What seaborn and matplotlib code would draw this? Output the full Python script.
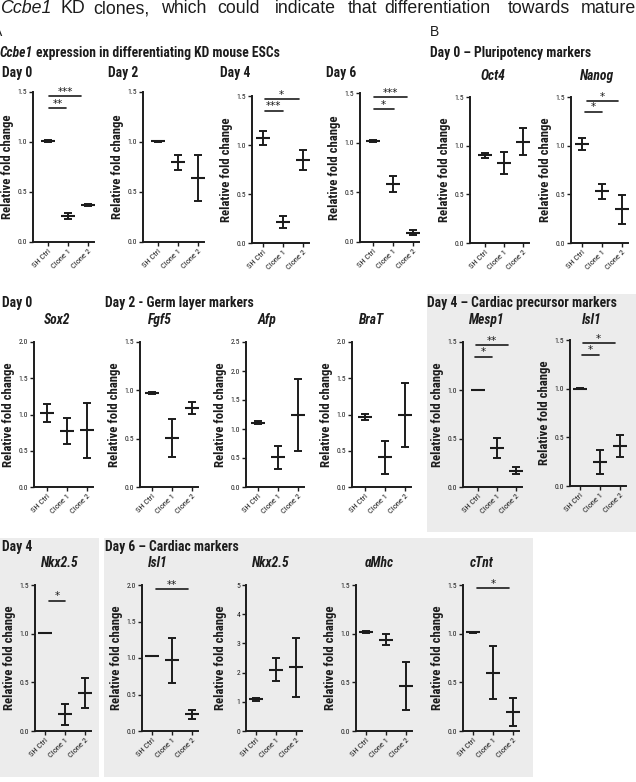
import matplotlib
matplotlib.use("Agg")
import matplotlib.pyplot as plt
import seaborn as sns
import numpy as np
import pandas as pd
from matplotlib.patches import Rectangle
from matplotlib.ticker import FormatStrFormatter, MultipleLocator
from matplotlib import font_manager as fm

# ---------------- data (mean, SEM) ----------------
groups = ["SH Ctrl", "Clone 1", "Clone 2"]

ccbe1_d0_mean = [1.01, 0.26, 0.37]
ccbe1_d0_sem = [0.01, 0.03, 0.012]
ccbe1_d2_mean = [1.01, 0.80, 0.64]
ccbe1_d2_sem = [0.005, 0.075, 0.23]
ccbe1_d4_mean = [1.075, 0.215, 0.85]
ccbe1_d4_sem = [0.07, 0.065, 0.10]
ccbe1_d6_mean = [1.02, 0.58, 0.095]
ccbe1_d6_sem = [0.01, 0.08, 0.022]
oct4_mean = [0.90, 0.82, 1.04]
oct4_sem = [0.025, 0.11, 0.14]
nanog_mean = [1.02, 0.53, 0.345]
nanog_sem = [0.063, 0.078, 0.145]
sox2_mean = [1.025, 0.775, 0.78]
sox2_sem = [0.125, 0.18, 0.385]
fgf5_mean = [0.97, 0.505, 0.82]
fgf5_sem = [0.01, 0.195, 0.063]
afp_mean = [1.11, 0.51, 1.24]
afp_sem = [0.03, 0.195, 0.625]
brat_mean = [0.97, 0.41, 0.99]
brat_sem = [0.04, 0.23, 0.44]
mesp1_mean = [1.005, 0.405, 0.17]
mesp1_sem = [0.0, 0.105, 0.033]
isl1_d4_mean = [1.0, 0.245, 0.41]
isl1_d4_sem = [0.005, 0.12, 0.113]
nkx25_d4_mean = [1.005, 0.17, 0.39]
nkx25_d4_sem = [0.0, 0.105, 0.15]
isl1_d6_mean = [1.025, 0.97, 0.23]
isl1_d6_sem = [0.0, 0.31, 0.06]
nkx25_d6_mean = [1.085, 2.10, 2.18]
nkx25_d6_sem = [0.045, 0.40, 1.02]
amhc_mean = [1.02, 0.94, 0.463]
amhc_sem = [0.01, 0.06, 0.25]
ctnt_mean = [1.015, 0.60, 0.196]
ctnt_sem = [0.006, 0.275, 0.145]

# ---------------- fonts ----------------
sns.set_style("ticks")


def wnum(w):
    return w if isinstance(w, (int, float)) else fm.weight_dict.get(w, 400)


info = {}
for f in fm.fontManager.ttflist:
    info.setdefault(f.name, set()).add(wnum(f.weight) >= 600)

pref = ["Roboto Condensed", "Liberation Sans Narrow", "Arial Narrow", "PT Sans Narrow",
        "Archivo Narrow", "Barlow Semi Condensed", "Encode Sans Condensed"]
NARROW, NS = "Liberation Sans", 0.82
for n in pref:
    if n in info and True in info[n]:
        NARROW, NS = n, 1.0
        break
REG = "Liberation Sans"
plt.rcParams["font.family"] = [NARROW, "DejaVu Sans"]
INK = "#1c1c1c"

W, H = 636, 782
fig = plt.figure(figsize=(W / 100, H / 100), dpi=100)


def fx(x):
    return x / W


def fy(y):
    return 1 - y / H


def ftext(x, y, s, size, weight="bold", style="normal", ha="left", family=None):
    return fig.text(fx(x), fy(y), s, fontsize=size, fontweight=weight, fontstyle=style,
                    ha=ha, va="baseline", family=[family or NARROW, "DejaVu Sans"], color=INK)


# gray background boxes
for (x0, y0, x1, y1) in [(427, 294, 636, 532), (0, 538, 99, 777), (104, 538, 533, 777)]:
    fig.patches.append(Rectangle((fx(x0), fy(y1)), fx(x1) - fx(x0), fy(y0) - fy(y1),
                                 transform=fig.transFigure, facecolor="#ececec",
                                 edgecolor="none", zorder=-10))


def panel(mean, sem, ymax, ystep, left, top, bottom, cat0, sigs, ppu=20, xr=2.3, fmt="%.1f"):
    xl = -(cat0 - left) / ppu
    width = (xr - xl) * ppu
    ax = fig.add_axes([fx(left), fy(bottom), width / W, (bottom - top) / H])
    ax.set_facecolor("none")
    df = pd.DataFrame({"group": groups, "value": mean})
    sns.pointplot(data=df, x="group", y="value", ax=ax, color=INK, linestyle="none",
                  marker="_", markersize=10, markeredgewidth=1.5, errorbar=None)
    ax.errorbar(range(3), mean, yerr=sem, fmt="none", ecolor=INK, elinewidth=1.4,
                capsize=3, capthick=1.4)
    ax.set_xlim(xl, xr)
    ax.set_ylim(0, ymax)
    ax.yaxis.set_major_locator(MultipleLocator(ystep))
    ax.yaxis.set_major_formatter(FormatStrFormatter(fmt))
    ax.set_xlabel("")
    ax.set_ylabel("Relative fold change", fontsize=9.2 * NS, fontweight="bold", color=INK)
    ax.yaxis.set_label_coords(-19 / width, 0.5)
    for s in ["top", "right"]:
        ax.spines[s].set_visible(False)
    for s in ["left", "bottom"]:
        ax.spines[s].set_linewidth(1.4)
        ax.spines[s].set_color(INK)
    ax.tick_params(axis="y", direction="out", length=3, width=1, color=INK,
                   labelsize=5.5 * NS, pad=1.2, labelcolor=INK)
    ax.tick_params(axis="x", direction="out", length=3, width=1, color=INK,
                   labelsize=6 * NS, pad=1.2, labelcolor=INK)
    for lab in ax.get_xticklabels():
        lab.set_rotation(45)
        lab.set_ha("right")
        lab.set_rotation_mode("anchor")
    for x0, x1, y, lab in sigs:
        ax.plot([x0, x1], [y, y], color=INK, lw=1.2, clip_on=False)
        ax.annotate(lab, xy=((x0 + x1) / 2, y), xytext=(0, -0.5), textcoords="offset points",
                    ha="center", va="bottom", fontsize=7.5, color=INK, annotation_clip=False,
                    family=["DejaVu Sans"])
    return ax


# Row 1
panel(ccbe1_d0_mean, ccbe1_d0_sem, 1.5, 0.5, 33, 92, 242, 48,
      [(0.05, 0.92, 1.34, "**"), (0.05, 1.67, 1.46, "***")])
panel(ccbe1_d2_mean, ccbe1_d2_sem, 1.5, 0.5, 143, 92, 242, 158, [])
panel(ccbe1_d4_mean, ccbe1_d4_sem, 1.5, 0.5, 252, 96, 243, 263,
      [(0.08, 1.0, 1.35, "***"), (0.08, 1.8, 1.47, "*")])
panel(ccbe1_d6_mean, ccbe1_d6_sem, 1.5, 0.5, 360, 93, 242, 373,
      [(0.03, 1.05, 1.34, "*"), (0.03, 1.72, 1.46, "***")])
panel(oct4_mean, oct4_sem, 1.5, 0.5, 470, 97, 243, 485, [], ppu=19)
panel(nanog_mean, nanog_sem, 1.5, 0.5, 571, 97, 243, 582,
      [(0.13, 1.0, 1.35, "*"), (0.25, 1.78, 1.46, "*")])
# Row 2
panel(sox2_mean, sox2_sem, 2.0, 0.5, 34, 342, 487, 47, [])
panel(fgf5_mean, fgf5_sem, 1.5, 0.5, 140, 342, 487, 152, [])
panel(afp_mean, afp_sem, 2.5, 0.5, 246, 342, 487, 258, [])
panel(brat_mean, brat_sem, 2.0, 0.5, 352, 342, 487, 365, [])
panel(mesp1_mean, mesp1_sem, 1.5, 0.5, 463, 342, 487, 478,
      [(-0.16, 0.74, 1.35, "*"), (-0.09, 1.6, 1.465, "**")], ppu=19)
panel(isl1_d4_mean, isl1_d4_sem, 1.5, 0.5, 570, 340, 486, 580,
      [(0.08, 0.95, 1.35, "*"), (0.13, 1.75, 1.47, "*")])
# Row 3
panel(nkx25_d4_mean, nkx25_d4_sem, 1.5, 0.5, 35, 585, 731, 45, [(0.22, 1.0, 1.34, "*")])
panel(isl1_d6_mean, isl1_d6_sem, 2.0, 0.5, 142, 585, 731, 152, [(0.22, 1.8, 1.945, "**")])
panel(nkx25_d6_mean, nkx25_d6_sem, 5, 1, 246, 585, 731, 256, [], fmt="%d")
panel(amhc_mean, amhc_sem, 1.5, 0.5, 356, 585, 731, 366, [])
panel(ctnt_mean, ctnt_sem, 1.5, 0.5, 463, 585, 731, 473, [(0.2, 1.8, 1.465, "*")])

# ---------------- texts ----------------
words = [("Ccbe1", 0, "italic"), ("KD", 60, "normal"), ("clones,", 93, "normal"),
         ("which", 161, "normal"), ("could", 217, "normal"), ("indicate", 275, "normal"),
         ("that", 348, "normal"), ("differentiation", 384, "normal"),
         ("towards", 508, "normal"), ("mature", 581, "normal")]
for w, x, st in words:
    ftext(x, 13, w, 12.8, weight="normal", style=st, family=REG)
ftext(2.5, 36, "A", 10, weight="normal", ha="right", family=REG)
ftext(430, 36, "B", 10, weight="normal", family=REG)

T = 9.8 * NS
t0 = ftext(0, 57, "Ccbe1", T, style="italic")
r = fig.canvas.get_renderer()
x_after = t0.get_window_extent(r).x1
ftext(x_after + 3, 57, "expression in differentiating KD mouse ESCs", T)
ftext(430, 57, "Day 0 – Pluripotency markers", T)
for x, s in [(2, "Day 0"), (108, "Day 2"), (220, "Day 4"), (326, "Day 6")]:
    ftext(x, 77, s, T)
ftext(493, 80, "Oct4", T, style="italic", ha="center")
ftext(597, 80, "Nanog", T, style="italic", ha="center")

ftext(2, 307, "Day 0", T)
ftext(105, 307, "Day 2 - Germ layer markers", T)
ftext(427, 307, "Day 4 – Cardiac precursor markers", T)
for x, s in [(57, "Sox2"), (160, "Fgf5"), (267, "Afp"), (372, "BraT"), (487, "Mesp1"), (592, "Isl1")]:
    ftext(x, 324, s, T, style="italic", ha="center")

ftext(2, 551, "Day 4", T)
ftext(105, 551, "Day 6 – Cardiac markers", T)
for x, s in [(60, "Nkx2.5"), (158, "Isl1"), (271, "Nkx2.5"), (379, "αMhc"), (482, "cTnt")]:
    ftext(x, 567, s, T, style="italic", ha="center")

fig.savefig("out.png", dpi=100)
